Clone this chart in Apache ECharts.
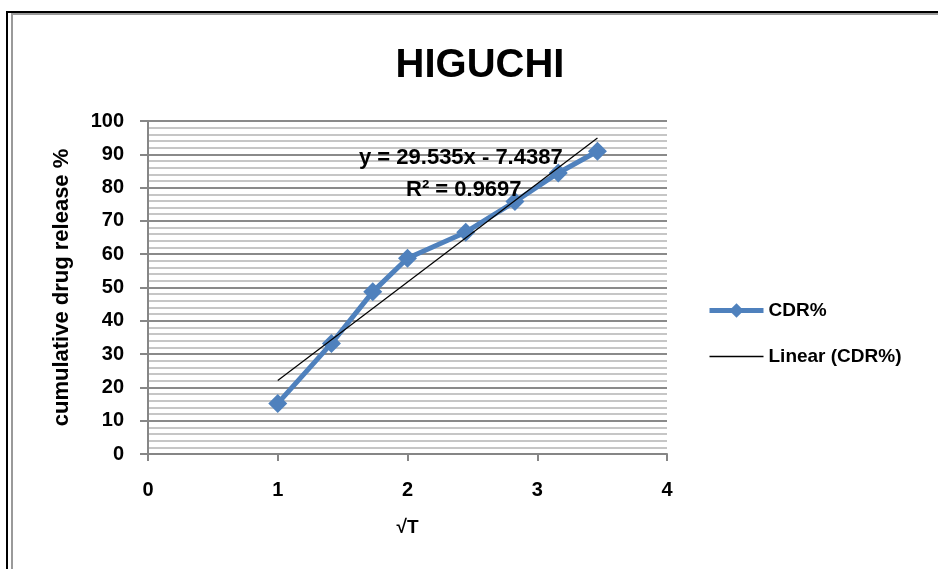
<!DOCTYPE html>
<html>
<head>
<meta charset="utf-8">
<script src="https://cdn.jsdelivr.net/npm/echarts@6/dist/echarts.min.js"></script>
<style>html,body{margin:0;padding:0;background:#fff}#c{width:938px;height:569px}</style>
</head>
<body>
<div id="c"></div>
<script>
// Data
var sqrtT = [1, 1.414, 1.732, 2, 2.449, 2.828, 3.162, 3.464];
var cdr = [15.2, 33.2, 48.7, 58.8, 66.6, 75.8, 84.4, 90.9];
var trendX = [1, 3.464];
var trendY = [22.1, 94.9];
var xTicks = [0, 1, 2, 3, 4];
var yTicks = [0, 10, 20, 30, 40, 50, 60, 70, 80, 90, 100];
var equationText = 'y = 29.535x - 7.4387';
var r2Text = 'R² = 0.9697';

var FONT = 'Liberation Sans';
var chart = echarts.init(document.getElementById('c'), null, {renderer: 'canvas'});
var option = {
  animation: false,
  backgroundColor: '#fff',
  title: {
    text: 'HIGUCHI', left: 475, top: 41, textAlign: 'center',
    textStyle: {fontFamily: FONT, fontWeight: 'bold', fontSize: 40, color: '#000'}
  },
  grid: {left: 148, right: 271, top: 121, bottom: 115, containLabel: false},
  legend: {
    orient: 'vertical', left: 707, top: 301, padding: 0, itemGap: 27, itemWidth: 54, itemHeight: 18,
    textStyle: {fontFamily: FONT, fontWeight: 'bold', fontSize: 19, color: '#000'},
    data: [
      {name: 'CDR%', lineStyle: {width: 5, color: '#4F81BD'}},
      {name: 'Linear (CDR%)', icon: 'path://M0,0 L54,0 L54,1.3 L0,1.3 Z', itemStyle: {color: '#000'}}
    ]
  },
  xAxis: {
    type: 'value', min: xTicks[0], max: xTicks[xTicks.length - 1], interval: 1,
    name: '√T', nameLocation: 'middle', nameGap: 64,
    nameTextStyle: {fontFamily: FONT, fontWeight: 'bold', fontSize: 19, color: '#000'},
    axisLine: {lineStyle: {color: '#868686', width: 2}},
    axisTick: {show: true, length: 7, lineStyle: {color: '#868686', width: 2}},
    axisLabel: {fontFamily: FONT, fontWeight: 'bold', fontSize: 20, color: '#000', margin: 26},
    splitLine: {show: false}
  },
  yAxis: {
    type: 'value', min: yTicks[0], max: yTicks[yTicks.length - 1], interval: 10,
    name: 'cumulative drug release %', nameLocation: 'middle', nameGap: 75, nameRotate: 90,
    nameTextStyle: {fontFamily: FONT, fontWeight: 'bold', fontSize: 22, color: '#000'},
    axisLine: {show: true, lineStyle: {color: '#868686', width: 2}},
    axisTick: {show: true, length: 8, lineStyle: {color: '#868686', width: 2}},
    axisLabel: {fontFamily: FONT, fontWeight: 'bold', fontSize: 20, color: '#000', margin: 24},
    splitLine: {show: true, lineStyle: {color: '#8a8a8a', width: 2}},
    minorTick: {show: false, splitNumber: 5},
    minorSplitLine: {show: true, lineStyle: {color: '#c6c6c6', width: 2}}
  },
  series: [
    {
      name: 'CDR%', type: 'line',
      data: sqrtT.map(function (x, i) { return [x, cdr[i]]; }),
      symbol: 'diamond', symbolSize: 19, showAllSymbol: true,
      lineStyle: {color: '#4F81BD', width: 5},
      itemStyle: {color: '#4F81BD'},
      z: 3
    },
    {
      name: 'Linear (CDR%)', type: 'line',
      data: trendX.map(function (x, i) { return [x, trendY[i]]; }),
      symbol: 'none',
      lineStyle: {color: '#000', width: 1.2},
      itemStyle: {color: '#000'},
      z: 4
    }
  ],
  graphic: [
    {type: 'rect', shape: {x: 6, y: 11, width: 2, height: 560}, style: {fill: '#000'}, silent: true},
    {type: 'rect', shape: {x: 6, y: 11, width: 940, height: 2}, style: {fill: '#000'}, silent: true},
    {type: 'rect', shape: {x: 11, y: 13, width: 2, height: 560}, style: {fill: '#9a9a9a'}, silent: true},
    {type: 'rect', shape: {x: 11, y: 13, width: 940, height: 2}, style: {fill: '#9a9a9a'}, silent: true},
    {type: 'text', left: 359, top: 147, z: 10,
      style: {text: equationText, font: 'bold 22px "Liberation Sans"', fill: '#000'}},
    {type: 'text', left: 406, top: 179, z: 10,
      style: {text: r2Text, font: 'bold 22px "Liberation Sans"', fill: '#000'}}
  ]
};
chart.setOption(option);
</script>
</body>
</html>
